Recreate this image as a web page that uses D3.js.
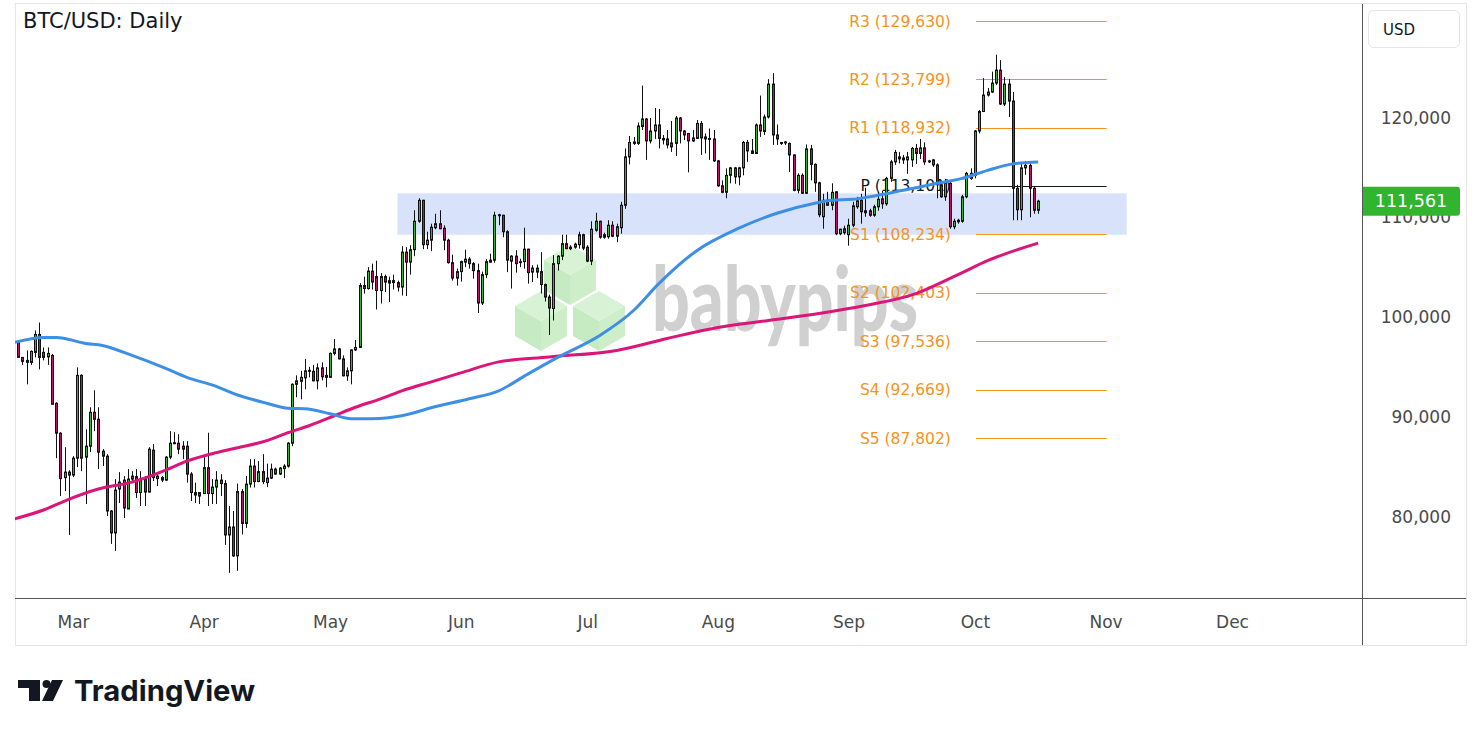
<!DOCTYPE html>
<html><head><meta charset="utf-8">
<script src="https://cdn.jsdelivr.net/npm/d3@7"></script>
<style>html,body{margin:0;padding:0;background:#fff;}svg{display:block;}</style>
</head><body>
<script>
// ---------- DATA (prices in thousands of USD) ----------
const firstDay = "2025-02-16"; // daily candles, consecutive days from here
const open = [
 97.4,95.9,95.6,95.4,96.4,98.2,96.4,95.95,96.1,91.3,88.3,83.85,84.4,
 84.1,85.8,94.1,85.9,87.0,90.4,89.7,86.5,86.0,80.5,78.3,82.7,83.6,80.7,84.0,83.95,82.35,83.75,82.4,86.6,84.0,83.85,83.6,85.9,87.3,87.3,87.0,87.0,84.2,82.35,82.35,
 82.25,84.85,82.25,82.9,83.6,83.25,78.1,78.9,76.0,82.45,79.25,83.2,85.0,83.45,84.45,83.35,83.8,84.7,84.2,84.75,85.0,87.3,93.2,93.5,93.85,94.6,94.5,93.55,94.85,94.1,
 93.9,96.3,96.75,95.75,94.05,94.55,96.65,96.9,103.1,102.8,104.55,104.0,102.6,104.0,103.35,103.6,103.4,102.95,106.45,105.45,106.7,109.55,111.65,107.2,107.65,108.9,109.3,108.85,107.65,105.4,103.85,
 104.5,105.45,105.75,105.3,104.6,101.35,104.2,105.45,105.65,110.1,110.15,108.5,105.55,106.05,105.4,105.5,106.75,104.45,104.85,104.5,103.2,101.95,100.8,105.3,106.05,107.3,106.8,106.95,107.2,108.2,
 106.95,105.55,108.65,109.55,107.95,108.0,109.15,108.05,108.9,111.15,116.0,117.35,117.35,119.05,119.8,117.6,118.6,119.2,117.85,117.8,117.4,117.35,119.9,118.6,118.35,117.6,117.85,119.35,118.0,117.85,117.8,
 115.6,113.1,112.45,114.15,114.9,114.0,114.9,117.45,116.6,116.35,119.2,118.55,120.0,123.3,118.2,117.45,117.4,117.35,116.2,112.65,114.15,112.35,116.8,115.25,113.4,110.0,111.65,111.15,112.5,108.3,108.8,
 108.2,109.15,111.0,111.65,110.6,110.6,110.15,111.0,111.8,111.3,113.85,115.5,116.0,115.9,115.7,115.7,116.85,116.35,116.9,115.5,115.7,115.2,113.2,112.0,113.35,109.0,109.5,109.55,112.0,113.85,
 114.15,118.6,120.55,122.2,122.5,123.4,124.7,121.3,123.3,121.6,112.85,110.7,114.9,115.15,112.85,110.65
];
const high = [
 97.5,95.9,96.6,96.6,98.6,99.4,96.9,96.9,96.25,91.4,88.4,86.9,84.6,
 86.0,94.9,94.2,88.7,90.9,92.6,90.9,86.7,86.2,80.6,83.7,84.4,84.0,84.7,84.5,84.7,84.5,84.0,86.9,87.2,84.4,84.0,86.0,88.5,88.4,88.2,87.5,87.5,84.4,83.35,82.4,
 85.9,88.35,83.7,84.5,84.2,83.6,81.0,80.5,83.25,82.7,84.0,85.7,85.7,85.5,86.2,85.25,85.25,84.85,84.9,85.2,87.4,93.3,94.1,94.55,95.75,94.95,95.15,95.3,95.4,94.95,
 96.4,97.75,96.85,96.1,94.9,96.7,97.65,103.35,104.0,104.95,105.3,105.6,104.35,104.2,104.0,104.2,103.6,107.05,106.95,107.15,110.65,111.85,111.7,108.5,109.3,110.3,110.65,109.15,107.8,106.2,104.8,
 105.6,106.7,105.95,105.45,105.3,104.5,105.75,106.3,110.5,110.3,110.2,108.65,106.15,106.65,105.8,108.9,106.8,105.15,105.2,106.45,103.3,102.2,106.15,106.15,108.2,108.2,107.15,107.4,108.5,108.3,
 107.15,109.55,110.4,109.6,108.4,109.65,109.55,109.3,111.5,116.85,118.1,118.0,119.45,123.15,119.9,119.9,120.9,120.8,118.2,118.7,119.6,120.1,120.0,118.7,118.4,118.7,119.7,119.6,118.35,118.85,118.7,
 115.7,113.65,114.85,115.0,115.0,115.0,117.6,117.7,117.8,119.35,122.15,120.25,123.8,124.4,119.25,117.5,117.6,117.45,116.25,114.35,114.35,117.25,117.2,115.35,113.5,112.3,112.5,113.35,112.55,108.8,109.1,
 109.8,111.5,112.0,112.3,112.9,110.8,111.2,112.5,112.6,114.0,115.7,116.7,116.5,116.2,116.5,117.0,117.3,117.8,117.45,115.7,115.8,115.35,113.65,113.8,113.5,109.8,109.8,112.2,114.5,114.85,
 118.7,120.7,123.9,122.9,124.55,126.25,125.7,124.0,123.8,122.5,113.2,115.5,115.6,115.35,113.0,111.7
];
const low = [
 95.9,95.15,93.2,95.15,95.9,94.7,95.6,95.15,91.2,85.8,82.0,82.5,78.1,
 83.9,84.9,84.5,81.2,86.4,88.5,84.7,85.0,80.0,77.2,76.5,81.3,79.8,80.7,83.35,81.8,81.0,81.0,82.35,83.5,83.0,83.4,83.5,85.7,87.2,86.2,85.7,83.35,81.5,81.3,81.2,
 82.2,81.0,81.2,81.2,82.0,77.1,74.3,75.9,74.5,78.15,78.8,82.85,82.85,83.4,83.2,82.9,83.7,84.15,84.1,83.8,84.85,87.0,91.9,91.7,92.7,93.9,93.5,92.7,93.6,92.9,
 93.9,96.1,95.7,94.0,93.55,93.2,96.55,96.85,102.3,102.7,102.7,100.7,101.3,102.45,101.45,102.7,102.5,102.1,102.05,104.2,106.05,109.4,106.75,106.75,106.55,108.75,108.75,106.65,105.3,103.6,103.1,
 103.5,104.95,104.8,103.8,100.35,101.15,103.85,105.4,105.4,109.15,107.95,104.45,102.8,104.4,104.95,104.8,103.3,103.45,103.85,102.3,101.5,98.15,99.6,104.6,105.65,106.75,106.65,106.8,106.8,106.65,
 105.45,105.15,108.5,107.8,107.8,107.8,107.95,107.45,108.3,110.8,115.25,117.2,117.2,118.7,115.7,117.35,117.8,116.85,117.25,116.85,116.5,116.1,117.35,117.7,114.45,117.5,117.8,116.2,116.35,115.7,115.5,
 113.0,112.35,111.85,113.35,113.3,113.15,114.15,115.5,116.3,116.3,118.0,118.2,119.85,117.2,117.2,117.2,117.2,114.5,112.55,112.35,112.3,112.3,113.65,112.5,109.95,108.8,111.1,110.65,108.15,108.15,108.2,
 107.1,108.95,110.8,109.3,110.0,110.0,110.0,110.6,110.8,111.1,113.5,115.2,115.35,115.3,114.3,115.0,115.3,115.8,115.2,115.4,115.0,111.85,111.9,111.6,108.8,108.75,109.3,109.4,111.85,113.7,
 113.85,118.35,120.5,122.05,122.4,123.2,121.2,121.1,120.0,109.65,109.65,109.65,114.2,109.95,110.3,110.3
];
const close = [
 95.9,95.5,95.4,96.5,98.2,95.9,95.9,96.3,91.2,88.3,83.75,84.4,84.1,
 85.8,94.1,85.8,87.0,90.4,89.7,86.4,86.0,80.5,78.3,82.6,83.4,80.8,83.7,83.7,82.35,83.7,82.4,86.7,83.85,83.75,83.6,85.9,87.3,87.35,86.7,86.7,84.2,82.35,82.1,82.0,
 84.85,82.25,82.9,83.6,83.25,78.1,78.9,76.0,82.45,79.25,83.2,85.0,83.45,84.45,83.45,83.8,84.7,84.2,84.8,85.0,87.3,93.2,93.55,93.9,94.55,94.55,93.55,94.85,93.95,93.9,
 96.3,96.75,95.75,94.05,94.55,96.65,96.9,103.1,102.8,104.55,103.45,102.6,104.0,103.45,103.6,103.4,102.95,106.45,105.45,106.7,109.55,111.65,107.2,107.65,108.95,109.3,108.8,107.65,105.4,103.85,104.5,
 105.5,105.75,105.3,104.6,101.35,104.2,105.5,105.65,110.15,110.2,108.5,105.65,106.05,105.3,105.5,106.75,104.4,104.85,104.45,103.2,101.95,100.85,105.3,106.05,107.3,106.8,106.95,107.25,108.2,106.85,
 105.55,108.75,109.55,107.95,108.2,109.15,108.05,109.0,111.15,116.0,117.45,117.5,119.1,119.8,117.6,118.6,119.2,117.85,117.7,117.2,117.0,119.9,118.6,118.2,117.6,117.9,119.35,117.9,117.8,117.8,115.6,
 113.1,112.45,114.15,114.9,114.0,114.9,117.45,116.6,116.35,119.2,118.6,120.0,123.3,118.2,117.8,117.35,117.5,116.2,112.65,114.15,112.35,116.8,115.25,113.4,110.2,111.65,111.15,112.45,108.3,108.75,108.4,
 109.15,111.1,111.6,110.5,110.4,110.15,111.0,111.75,111.3,113.85,115.5,116.45,115.8,115.7,116.0,116.85,116.35,116.9,115.5,115.6,115.2,113.2,112.0,113.4,109.0,109.55,109.65,112.0,114.35,114.35,
 118.6,120.55,122.2,122.5,123.4,124.7,121.3,123.3,121.6,112.85,110.7,114.9,115.15,112.85,110.65,111.561
];

// moving averages (thousands)
const maFastDates = ["2025-02-15","2025-02-22","2025-02-25","2025-03-04","2025-03-08","2025-03-15","2025-03-23","2025-03-28","2025-04-04","2025-04-08","2025-04-16","2025-04-21","2025-04-25","2025-05-01","2025-05-06","2025-05-11","2025-05-18","2025-05-25","2025-06-03","2025-06-10","2025-06-17","2025-06-24","2025-07-04","2025-07-12","2025-07-18","2025-07-27","2025-08-06","2025-08-15","2025-08-24","2025-08-28","2025-09-02","2025-09-06","2025-09-14","2025-09-22","2025-09-28","2025-10-04","2025-10-10","2025-10-16"];
const maFast = [97.4,97.9,97.9,97.3,97.1,96.1,94.8,93.9,93.0,92.3,91.3,90.8,90.75,90.25,89.75,89.75,90.05,90.85,91.75,92.55,94.25,95.9,98.1,100.6,103.3,106.6,108.85,110.35,111.35,111.65,111.75,112.0,112.65,113.35,113.85,114.65,115.3,115.5];
const maSlowDates = ["2025-02-15","2025-02-22","2025-02-27","2025-03-07","2025-03-15","2025-03-23","2025-03-28","2025-04-04","2025-04-08","2025-04-16","2025-04-21","2025-04-26","2025-05-02","2025-05-07","2025-05-13","2025-05-18","2025-05-25","2025-06-01","2025-06-10","2025-06-22","2025-07-08","2025-07-20","2025-08-01","2025-08-13","2025-08-25","2025-09-05","2025-09-17","2025-09-27","2025-10-04","2025-10-16"];
const maSlow = [79.7,80.6,81.5,82.7,83.4,84.6,85.5,86.35,86.75,87.55,88.35,89.05,90.05,90.9,91.75,92.55,93.45,94.35,95.45,95.95,96.6,97.8,98.9,99.6,100.3,101.1,102.3,104.2,105.6,107.35];

const monthLabels = ["Mar","Apr","May","Jun","Jul","Aug","Sep","Oct","Nov","Dec"];
const monthDates = ["2025-03-01","2025-04-01","2025-05-01","2025-06-01","2025-07-01","2025-08-01","2025-09-01","2025-10-01","2025-11-01","2025-12-01"];
const priceTicks = [80000,90000,100000,110000,120000];

const pivotNames = ["R3","R2","R1","P","S1","S2","S3","S4","S5"];
const pivotValues = [129630,123799,118932,113101,108234,102403,97536,92669,87802];
const pivotPeriod = ["2025-10-01","2025-11-01"];
const zonePeriod = ["2025-05-17","2025-11-06"];
const zoneRange = [108200,112350];
const lastPrice = 111561;
const title = "BTC/USD: Daily";

// ---------- CHART ----------
const W = 1482, H = 736;
const pane = {left:15, right:1362, top:4, bottom:598};
const parse = d3.utcParse("%Y-%m-%d");
const svg = d3.select("body").append("svg").attr("width",W).attr("height",H);
const F = "'DejaVu Sans', sans-serif";

const x = d3.scaleUtc().domain([parse("2025-03-01"), parse("2025-12-01")]).range([73,1232]);
const y = d3.scaleLinear().domain([80000,120000]).range([516,117]);

const n = Math.min(open.length, high.length, low.length, close.length);
const days = d3.utcDay.range(parse(firstDay), d3.utcDay.offset(parse(firstDay), n));
const candles = days.map((d,i)=>({date:d, o:open[i]*1000, h:high[i]*1000, l:low[i]*1000, c:close[i]*1000}));

// frame
svg.append("rect").attr("x",15.5).attr("y",3.5).attr("width",1451).attr("height",642)
  .attr("fill","#fff").attr("stroke","#e6e6e6");

svg.append("clipPath").attr("id","paneClip").append("rect")
  .attr("x",pane.left).attr("y",pane.top).attr("width",pane.right-pane.left).attr("height",pane.bottom-pane.top);
const g = svg.append("g").attr("clip-path","url(#paneClip)");

// watermark
const wm = g.append("g");
function cube(cx, cy, r){
  const h = r*Math.sqrt(3)/2;
  const top = [[cx,cy-r],[cx+h,cy-r/2],[cx,cy],[cx-h,cy-r/2]];
  const left = [[cx-h,cy-r/2],[cx,cy],[cx,cy+r],[cx-h,cy+r/2]];
  const right = [[cx,cy],[cx+h,cy-r/2],[cx+h,cy+r/2],[cx,cy+r]];
  wm.append("polygon").attr("points",left.join(" ")).attr("fill","#c6eac2");
  wm.append("polygon").attr("points",right.join(" ")).attr("fill","#cdeec9");
  wm.append("polygon").attr("points",top.join(" ")).attr("fill","#d8f2d5");
}
cube(570,275,30); cube(541,321,30); cube(599,321,30);
wm.append("text").attr("x",652).attr("y",331).attr("font-family","Lato, 'DejaVu Sans', sans-serif")
  .attr("font-weight",900).attr("font-size",90).attr("fill","#d0d0d0")
  .attr("textLength",266).attr("lengthAdjust","spacingAndGlyphs").text("babypips");

// zone
g.append("rect")
  .attr("x",x(parse(zonePeriod[0]))).attr("width",x(parse(zonePeriod[1]))-x(parse(zonePeriod[0])))
  .attr("y",y(zoneRange[1])).attr("height",y(zoneRange[0])-y(zoneRange[1]))
  .attr("fill","#d9e2fb");

// pivots
const px0 = x(parse(pivotPeriod[0])), px1 = x(parse(pivotPeriod[1]));
pivotNames.forEach((nm,i)=>{
  const v = pivotValues[i], yy = Math.round(y(v))+0.5;
  const col = nm==="P" ? "#131722" : "#f39321";
  g.append("line").attr("x1",px0+1).attr("x2",px1+1).attr("y1",yy).attr("y2",yy)
    .attr("stroke",col).attr("stroke-width",1.2);
  g.append("text").attr("x",px0-24).attr("y",y(v)).attr("dy","0.36em").attr("text-anchor","end")
    .attr("font-family",F).attr("font-size",15.5).attr("fill",col)
    .text(`${nm} (${d3.format(",")(v)})`);
});

// candles
const up = "#3fae3c", dn = "#b8175c";
const cg = g.append("g");
candles.forEach(d=>{
  const cx = Math.round(x(d.date));
  cg.append("line").attr("x1",cx+0.5).attr("x2",cx+0.5).attr("y1",y(d.h)).attr("y2",y(d.l))
    .attr("stroke","#111").attr("stroke-width",1);
  const y0 = y(Math.max(d.o,d.c)), y1 = y(Math.min(d.o,d.c));
  cg.append("rect").attr("x",cx-0.5).attr("width",2).attr("y",y0).attr("height",Math.max(1,y1-y0))
    .attr("fill", d.c>=d.o ? up : dn).attr("stroke","#111").attr("stroke-width",1);
});

// moving averages
const line = d3.line().x(d=>x(d.date)).y(d=>y(d.v)).curve(d3.curveMonotoneX);
const fast = maFastDates.map((s,i)=>({date:parse(s), v:maFast[i]*1000}));
const slow = maSlowDates.map((s,i)=>({date:parse(s), v:maSlow[i]*1000}));
g.append("path").attr("d",line(slow)).attr("fill","none").attr("stroke","#dc1579").attr("stroke-width",3).attr("stroke-linejoin","round");
g.append("path").attr("d",line(fast)).attr("fill","none").attr("stroke","#3d8fe6").attr("stroke-width",3).attr("stroke-linejoin","round");

// axis lines
svg.append("line").attr("x1",15).attr("x2",1466).attr("y1",598.5).attr("y2",598.5).attr("stroke","#555");
svg.append("line").attr("x1",1362.5).attr("x2",1362.5).attr("y1",4).attr("y2",645).attr("stroke","#555");

// x axis
const xAxis = d3.axisBottom(x).tickValues(monthDates.map(parse)).tickSize(0)
  .tickFormat((d,i)=>monthLabels[i]);
const xg = svg.append("g").attr("transform","translate(0,598)").call(xAxis);
xg.select(".domain").remove();
xg.selectAll("text").attr("y",30).attr("dy",0).attr("font-family",F).attr("font-size",17).attr("fill","#4a4a4a");

// y axis
const yAxis = d3.axisRight(y).tickValues(priceTicks).tickSize(0).tickFormat(d3.format(","));
const yg = svg.append("g").attr("transform","translate(1362,0)").call(yAxis);
yg.select(".domain").remove();
yg.selectAll("text").attr("x",89).attr("dy","0.36em").attr("text-anchor","end")
  .attr("font-family",F).attr("font-size",17).attr("fill","#4a4a4a");

// last price label
const ly = y(lastPrice);
svg.append("path")
  .attr("d",`M1363,${ly-14.5} H1457 a3,3 0 0 1 3,3 V${ly+11.5} a3,3 0 0 1 -3,3 H1363 Z`)
  .attr("fill","#31b52f");
svg.append("text").attr("x",1411).attr("y",ly).attr("dy","0.36em").attr("text-anchor","middle")
  .attr("font-family",F).attr("font-size",17.5).attr("fill","#fff").text(d3.format(",")(lastPrice));

// USD box
svg.append("rect").attr("x",1368.5).attr("y",10.5).attr("width",91).attr("height",37).attr("rx",5)
  .attr("fill","#fff").attr("stroke","#e3e5ea");
svg.append("text").attr("x",1383).attr("y",35).attr("font-family",F).attr("font-size",15)
  .attr("fill","#131722").text("USD");

// title
svg.append("text").attr("x",23).attr("y",28).attr("font-family",F).attr("font-size",21)
  .attr("fill","#131722").text(title);

// TradingView logo
const lg = svg.append("g").attr("fill","#131722");
lg.append("rect").attr("x",18).attr("y",680).attr("width",22).attr("height",8);
lg.append("rect").attr("x",29).attr("y",680).attr("width",11).attr("height",21);
lg.append("circle").attr("cx",46.5).attr("cy",684).attr("r",4);
lg.append("polygon").attr("points","52,680 63,680 53,701 42,701");
svg.append("text").attr("x",74).attr("y",701).attr("font-family","Inter, 'DejaVu Sans', sans-serif")
  .attr("font-weight",700).attr("font-size",29).attr("fill","#131722")
  .attr("textLength",181).attr("lengthAdjust","spacingAndGlyphs").text("TradingView");
</script>
</body></html>
